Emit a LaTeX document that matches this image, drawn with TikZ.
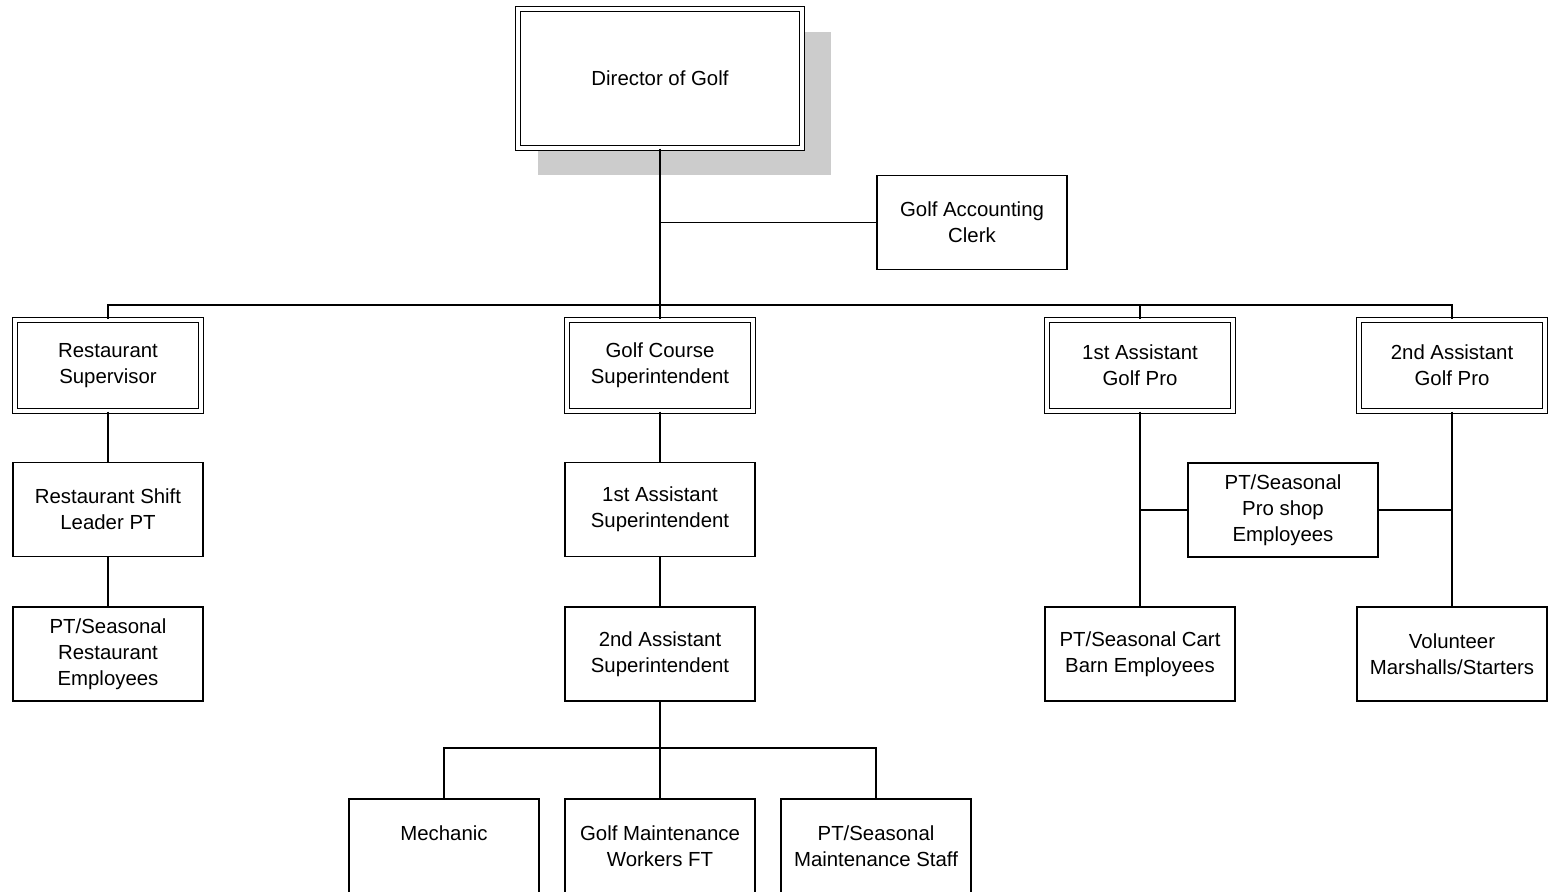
\documentclass[tikz,border=0pt]{standalone}
\usepackage{fontspec}
\setmainfont{Liberation Sans}
\usetikzlibrary{shadows}

\begin{document}
\begin{tikzpicture}[scale=0.2]
\tikzstyle{every node}+=[inner sep=0pt, align=center, font=\fontsize{11.6}{14.8}\selectfont]
\tikzstyle{box}=[draw, fill=white, line width=0.95pt, minimum width=3.8cm, minimum height=1.88cm]
\tikzstyle{dbox}=[draw, fill=white, line width=0.85pt, double, double distance=1.8pt, minimum width=3.72cm, minimum height=1.82cm]
\tikzstyle{link}=[line width=0.95pt]
\useasboundingbox (0,0) rectangle (155.4,-89.2);
\clip (0,0) rectangle (155.4,-89.2);
\node [dbox, minimum width=5.68cm, minimum height=2.78cm, drop shadow={shadow scale=1.03, shadow xshift=0.48cm, shadow yshift=-0.48cm, fill=black!20, opacity=1}] (dir) at (66.0,-7.85) {Director of Golf};
\node [box] (clerk) at (97.2,-22.25) {Golf Accounting\\Clerk};
\node [dbox] (rsup) at (10.8,-36.55) {Restaurant\\Supervisor};
\node [dbox] (gcs) at (66.0,-36.55) {Golf Course\\Superintendent};
\node [dbox] (agp1) at (114.0,-36.55) {1st Assistant\\Golf Pro};
\node [dbox] (agp2) at (145.2,-36.55) {2nd Assistant\\Golf Pro};
\node [box] (rsl) at (10.8,-50.95) {Restaurant Shift\\Leader PT};
\node [box] (asup1) at (66.0,-50.95) {1st Assistant\\Superintendent};
\node [box] (proshop) at (128.3,-51.0) {PT/Seasonal\\Pro shop\\Employees};
\node [box] (rpt) at (10.8,-65.4) {PT/Seasonal\\Restaurant\\Employees};
\node [box] (asup2) at (66.0,-65.4) {2nd Assistant\\Superintendent};
\node [box] (cart) at (114.0,-65.4) {PT/Seasonal Cart\\Barn Employees};
\node [box] (vol) at (145.2,-65.4) {Volunteer\\Marshalls/Starters};
\node [box] (mech) at (44.4,-84.6) {Mechanic\\~};
\node [box] (gmw) at (66.0,-84.6) {Golf Maintenance\\Workers FT};
\node [box] (pmstaff) at (87.6,-84.6) {PT/Seasonal\\Maintenance Staff};
\coordinate (top bar) at (66.0,-30.5);
\coordinate (low bar) at (66.0,-74.8);
\draw [link] (dir.south) -- (gcs.north);
\draw [link] (clerk.west) -- (clerk.west -| dir.south);
\draw [link] (rsup.north) |- (top bar) -| (agp2.north);
\draw [link] (agp1.north) -- (agp1.north |- top bar);
\draw [link] (rsup.south) -- (rsl.north);
\draw [link] (rsl.south) -- (rpt.north);
\draw [link] (gcs.south) -- (asup1.north);
\draw [link] (asup1.south) -- (asup2.north);
\draw [link] (agp1.south) -- (cart.north);
\draw [link] (agp2.south) -- (vol.north);
\draw [link] (proshop.west) -- (proshop.west -| agp1.south);
\draw [link] (proshop.east) -- (proshop.east -| agp2.south);
\draw [link] (asup2.south) -- (low bar);
\draw [link] (mech.north) |- (low bar) -| (pmstaff.north);
\draw [link] (gmw.north) -- (low bar);
\end{tikzpicture}
\end{document}
